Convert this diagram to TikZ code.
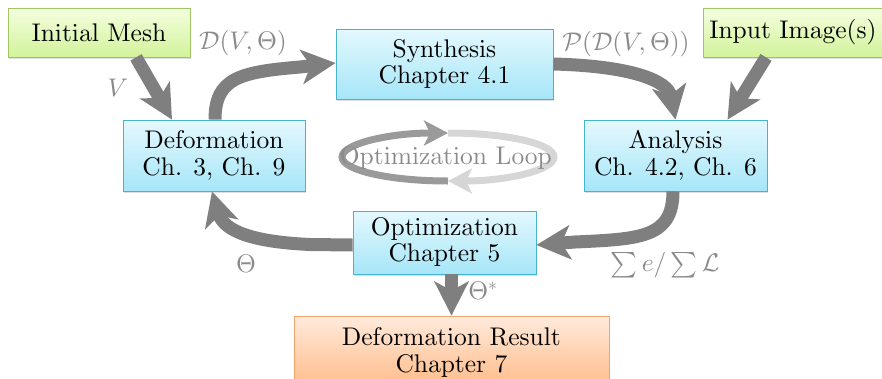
\RequirePackage{fix-cm}
\documentclass[tikz,border=0pt]{standalone}
\DeclareFontShape{OT1}{cmr}{m}{n}{<->cmr10}{}
\DeclareFontShape{OML}{cmm}{m}{it}{<->cmmi10}{}
\DeclareFontShape{OMS}{cmsy}{m}{n}{<->cmsy10}{}
\DeclareFontShape{OMX}{cmex}{m}{n}{<->cmex10}{}
\usetikzlibrary{arrows.meta,shadows}
\definecolor{arrowgray}{HTML}{7F7F7F}
\definecolor{labelgray}{HTML}{8A8A8A}
\definecolor{loopdark}{HTML}{9A9A9A}
\definecolor{looplight}{HTML}{D6D6D6}
\definecolor{bluetop}{HTML}{E4F8FE}
\definecolor{bluebot}{HTML}{A6E6F8}
\definecolor{blueedge}{HTML}{47B3CF}
\definecolor{greentop}{HTML}{F4FFE0}
\definecolor{greenbot}{HTML}{D2F29A}
\definecolor{greenedge}{HTML}{9FC565}
\definecolor{orangetop}{HTML}{FFEADC}
\definecolor{orangebot}{HTML}{FFBE8C}
\definecolor{orangeedge}{HTML}{F2A466}
\newcommand{\diagfont}{\fontencoding{OT1}\fontfamily{cmr}\fontsize{25.5}{26.5}\selectfont}
\begin{document}
\begin{tikzpicture}[x=1pt,y=-1pt,
  box/.style={draw, line width=0.8pt, align=center, inner sep=0pt,
    font=\diagfont,
    drop shadow={shadow xshift=1pt,shadow yshift=-1.5pt,opacity=0.25}},
  bluebox/.style={box, draw=blueedge, top color=bluetop, bottom color=bluebot},
  greenbox/.style={box, draw=greenedge, top color=greentop, bottom color=greenbot},
  orangebox/.style={box, draw=orangeedge, top color=orangetop, bottom color=orangebot},
  flow/.style={line width=13pt, draw=arrowgray,
    -{Stealth[length=34pt,width=34pt,inset=9pt]}},
  lbl/.style={text=labelgray, font=\diagfont, inner sep=0pt},
  loopdk/.style={line width=7pt, draw=loopdark, -{Stealth[length=24pt,width=25pt,inset=6pt]}},
  looplt/.style={line width=7pt, draw=looplight, -{Stealth[length=24pt,width=25pt,inset=6pt]}}
]
\useasboundingbox (0,0) rectangle (882,378);

% loop
\coordinate (loopbot) at (448,181);
\coordinate (looptop) at (448,133);
\draw[loopdk] (loopbot) arc[start angle=90, end angle=270, x radius=106, y radius=24];
\draw[looplt] (looptop) arc[start angle=270, end angle=450, x radius=106, y radius=24];
\node[lbl, text=labelgray] (looptxt) at (446,158) {Optimization Loop};

% nodes
\node[greenbox, minimum width=182pt, minimum height=49pt] (init) at (99,32.5) {Initial Mesh};
\node[greenbox, minimum width=180pt, minimum height=49pt] (input) at (793,32.5) {Input Image(s)};
\node[bluebox, minimum width=217pt, minimum height=70pt] (synth) at (444.5,64) {Synthesis\\Chapter 4.1};
\node[bluebox, minimum width=182pt, minimum height=71pt] (deform) at (214,155.5) {Deformation\\Ch. 3, Ch. 9};
\node[bluebox, minimum width=183pt, minimum height=71pt] (analysis) at (675.5,155.5) {Analysis\\Ch. 4.2, Ch. 6};
\node[bluebox, minimum width=183pt, minimum height=63pt] (opt) at (444.5,242.5) {Optimization\\Chapter 5};
\node[orangebox, minimum width=315pt, minimum height=68pt, text depth=0pt] (result) at (451.5,350) {Deformation Result\\Chapter 7};

% flows
\draw[flow] ([xshift=37pt]init.south) -- ([xshift=-42pt]deform.north);
\draw[flow] ([xshift=1pt]deform.north) .. controls (215,78) and (240,72) .. (300,67) -- ([yshift=1pt]synth.west);
\draw[flow] (synth.east) .. controls (630,66) and (668,80) .. (analysis.north);
\draw[flow] ([xshift=-27pt]input.south) -- ([xshift=52pt]analysis.north);
\draw[flow] ([xshift=-2.5pt]analysis.south) .. controls (673,238) and (640,239) .. (575,242) -- ([yshift=-2.5pt]opt.east);
\draw[flow] ([yshift=-2.5pt]opt.west) -- (310,244.5) .. controls (255,242) and (224,232) .. ([xshift=-2pt]deform.south);
\draw[flow] (result.north |- opt.south) -- (result.north);

% labels
\node[lbl] (lV) at (118,88) {$V$};
\node[lbl] (lD) at (243,43) {$\mathcal{D}(V,\Theta)$};
\node[lbl] (lP) at (626,44) {$\mathcal{P}(\mathcal{D}(V,\Theta))$};
\node[lbl] (lE) at (665,265) {$\sum e/\sum\mathcal{L}$};
\node[lbl] (lT) at (246,264) {$\Theta$};
\node[lbl] (lTs) at (483,291) {$\Theta^{*}$};
\end{tikzpicture}
\end{document}
